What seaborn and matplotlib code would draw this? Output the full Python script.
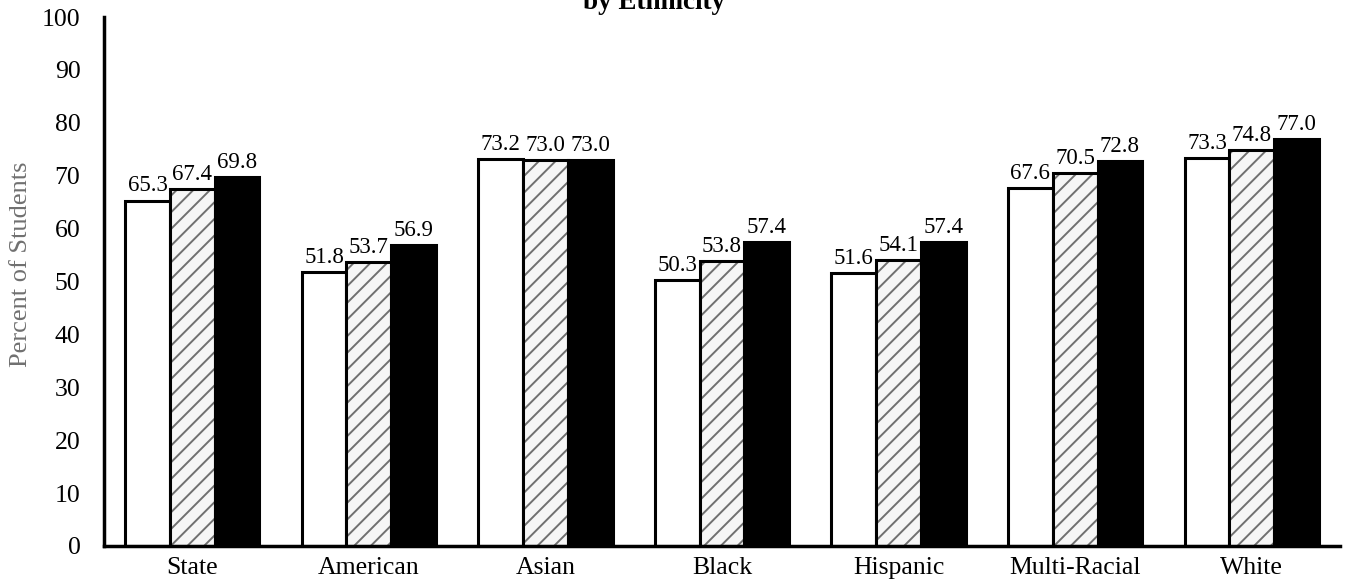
import matplotlib
matplotlib.use("Agg")
import matplotlib.pyplot as plt
from matplotlib.patches import Rectangle
import seaborn as sns
import pandas as pd

# Percent of students per ethnic group, three successive years
categories = ["State", "American", "Asian", "Black", "Hispanic", "Multi-Racial", "White"]
series_names = ["Year 1", "Year 2", "Year 3"]
year1 = [65.3, 51.8, 73.2, 50.3, 51.6, 67.6, 73.3]
year2 = [67.4, 53.7, 73.0, 53.8, 54.1, 70.5, 74.8]
year3 = [69.8, 56.9, 73.0, 57.4, 57.4, 72.8, 77.0]
y_ticks = list(range(0, 101, 10))

rows = []
for name, vals in zip(series_names, [year1, year2, year3]):
    for cat, v in zip(categories, vals):
        rows.append({"group": cat, "year": name, "pct": v})
df = pd.DataFrame(rows)

sns.set_theme(style="white")
plt.rcParams["font.family"] = ["Liberation Serif", "DejaVu Serif"]
plt.rcParams["hatch.linewidth"] = 1.4

fig = plt.figure(figsize=(13.45, 5.81), dpi=100)
ax = fig.add_axes([104 / 1345, 1 - 546 / 581, (1340 - 104) / 1345, (546 - 17) / 581])

sns.barplot(data=df, x="group", y="pct", hue="year", order=categories,
            hue_order=series_names, palette=["white", "#f6f6f6", "black"],
            width=0.76, gap=0, saturation=1, edgecolor="black", linewidth=2.2,
            errorbar=None, legend=False, ax=ax)

# middle series: gray diagonal hatching inside a black outline
for bar in ax.containers[1]:
    bar.set_hatch("//")
    bar.set_edgecolor("#707070")
    bar.set_linewidth(0)
    ax.add_patch(Rectangle((bar.get_x(), bar.get_y()), bar.get_width(), bar.get_height(),
                           fill=False, edgecolor="black", linewidth=2.2, zorder=bar.get_zorder() + 0.1))

for cont in ax.containers:
    ax.bar_label(cont, fmt="%.1f", padding=3, fontsize=16.5, color="black")

ax.set_ylim(0, 100)
ax.set_xlim(-0.5, len(categories) - 0.5)
ax.set_yticks(y_ticks)
ax.set_yticklabels([str(t) for t in y_ticks], fontsize=18.5)
ax.set_xticks(range(len(categories)))
ax.set_xticklabels(categories, fontsize=18.5)
ax.set_xticks([i - 0.5 for i in range(len(categories) + 1)], minor=True)
ax.tick_params(axis="x", which="major", length=0, pad=8)
ax.tick_params(axis="x", which="minor", length=12, width=1, color="black", direction="out")
ax.tick_params(axis="y", which="major", length=12, width=1, color="black", direction="out", pad=5)
ax.tick_params(axis="both", colors="black", labelcolor="black")

for side in ["top", "right"]:
    ax.spines[side].set_visible(False)
for side in ["left", "bottom"]:
    ax.spines[side].set_color("black")
    ax.spines[side].set_linewidth(2.5)

ax.set_xlabel("")
ax.set_ylabel("Percent of Students", fontsize=19, color="#707070")
ax.yaxis.set_label_coords(-0.058, 0.533)
ax.grid(False)

fig.text(0.486, 1 - 9 / 581, "by Ethnicity", ha="center", va="baseline",
         fontsize=19.5, fontweight="bold", color="black")

fig.savefig("out.png", dpi=100)
